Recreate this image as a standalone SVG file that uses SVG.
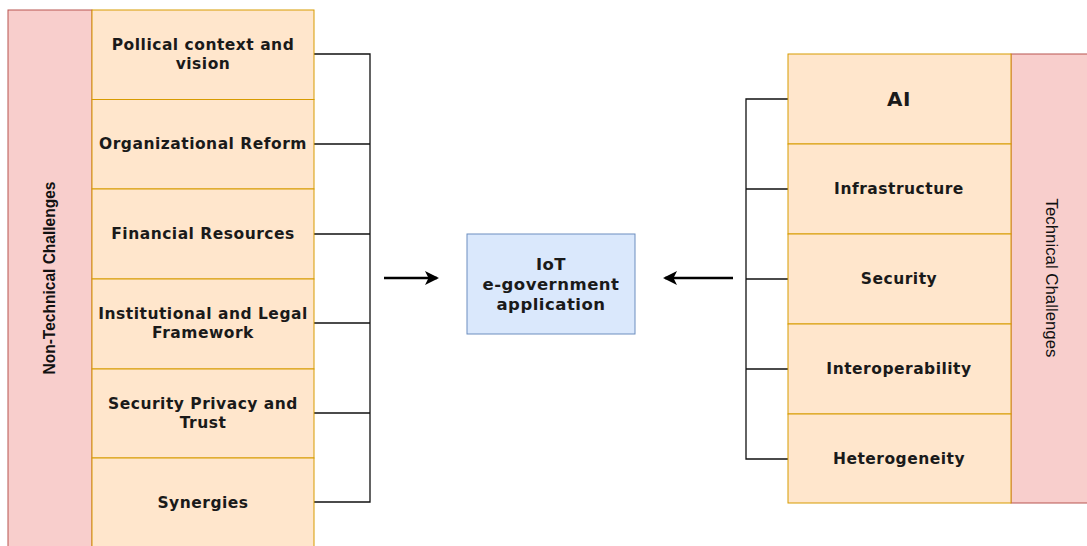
<svg xmlns="http://www.w3.org/2000/svg" width="1087" height="546" viewBox="0 0 1087 546">
  <style>
    .lane { fill: #f8cecc; stroke: #b85450; stroke-width: 1; }
    .cell { fill: #ffe6cc; stroke: #d79b00; stroke-width: 1; }
    .core { fill: #dae8fc; stroke: #6c8ebf; stroke-width: 1; }
    .lbl { font-family: "DejaVu Sans", "Liberation Sans", sans-serif; font-weight: bold; font-size: 15.5px; letter-spacing: 0.5px; fill: #1a1a1a; text-anchor: middle; dominant-baseline: central; }
    .lbl.big { font-size: 20px; }
    .lbl.mid { font-size: 16.5px; }
    .lane-lbl { font-family: "Liberation Sans", Arial, sans-serif; font-size: 17px; fill: #111; text-anchor: middle; dominant-baseline: central; }
    .wire { fill: none; stroke: #111; stroke-width: 1.3; }
    .flow { fill: none; stroke: #000; stroke-width: 2.5; }
  </style>
  <defs>
    <marker id="head" viewBox="0 0 14 14" refX="12" refY="7" markerWidth="14" markerHeight="14" markerUnits="userSpaceOnUse" orient="auto">
      <path d="M0,0 L14,7 L0,14 L3.5,7 Z" fill="#000"/>
    </marker>
  </defs>
  <rect width="1087" height="546" fill="#ffffff"/>

  <!-- connectors -->
  <g id="connectors">
    <path class="wire" d="M314,54 H370 V502 H314 M314,144 H370 M314,234 H370 M314,323 H370 M314,413 H370"/>
    <path class="wire" d="M788,99 H746 V459 H788 M746,189 H788 M746,279 H788 M746,369 H788"/>
    <line class="flow" x1="384" y1="278" x2="437" y2="278" marker-end="url(#head)"/>
    <line class="flow" x1="733" y1="278" x2="665" y2="278" marker-end="url(#head)"/>
  </g>

  <!-- non-technical lane -->
  <g id="non-technical">
    <rect class="lane" x="8" y="10" width="84" height="545"/>
    <text class="lane-lbl" font-weight="bold" transform="translate(49,278) rotate(-90)" textLength="193" lengthAdjust="spacingAndGlyphs">Non-Technical Challenges</text>
  </g>
  <g id="political">
    <rect class="cell" x="92" y="10" width="222" height="89.5"/>
    <text class="lbl" x="203" y="45">Pollical context and</text>
    <text class="lbl" x="203" y="64">vision</text>
  </g>
  <g id="organizational">
    <rect class="cell" x="92" y="99.5" width="222" height="89.5"/>
    <text class="lbl" x="203" y="144">Organizational Reform</text>
  </g>
  <g id="financial">
    <rect class="cell" x="92" y="189" width="222" height="90"/>
    <text class="lbl" x="203" y="234">Financial Resources</text>
  </g>
  <g id="institutional">
    <rect class="cell" x="92" y="279" width="222" height="90"/>
    <text class="lbl" x="203" y="314">Institutional and Legal</text>
    <text class="lbl" x="203" y="333">Framework</text>
  </g>
  <g id="security-privacy">
    <rect class="cell" x="92" y="369" width="222" height="89"/>
    <text class="lbl" x="203" y="404">Security Privacy and</text>
    <text class="lbl" x="203" y="423">Trust</text>
  </g>
  <g id="synergies">
    <rect class="cell" x="92" y="458" width="222" height="97"/>
    <text class="lbl" x="203" y="503">Synergies</text>
  </g>

  <!-- central application -->
  <g id="iot-app">
    <rect class="core" x="467" y="234" width="168" height="100"/>
    <text class="lbl mid" x="551" y="264">IoT</text>
    <text class="lbl mid" x="551" y="284">e-government</text>
    <text class="lbl mid" x="551" y="304">application</text>
  </g>

  <!-- technical lane -->
  <g id="technical">
    <rect class="lane" x="1011" y="54" width="84" height="449"/>
    <text class="lane-lbl" transform="translate(1051,278) rotate(90)" textLength="159" lengthAdjust="spacingAndGlyphs">Technical Challenges</text>
  </g>
  <g id="ai">
    <rect class="cell" x="788" y="54" width="223" height="90"/>
    <text class="lbl big" x="899" y="99">AI</text>
  </g>
  <g id="infrastructure">
    <rect class="cell" x="788" y="144" width="223" height="90"/>
    <text class="lbl" x="899" y="189">Infrastructure</text>
  </g>
  <g id="security">
    <rect class="cell" x="788" y="234" width="223" height="90"/>
    <text class="lbl" x="899" y="279">Security</text>
  </g>
  <g id="interoperability">
    <rect class="cell" x="788" y="324" width="223" height="90"/>
    <text class="lbl" x="899" y="369">Interoperability</text>
  </g>
  <g id="heterogeneity">
    <rect class="cell" x="788" y="414" width="223" height="89"/>
    <text class="lbl" x="899" y="459">Heterogeneity</text>
  </g>
</svg>
